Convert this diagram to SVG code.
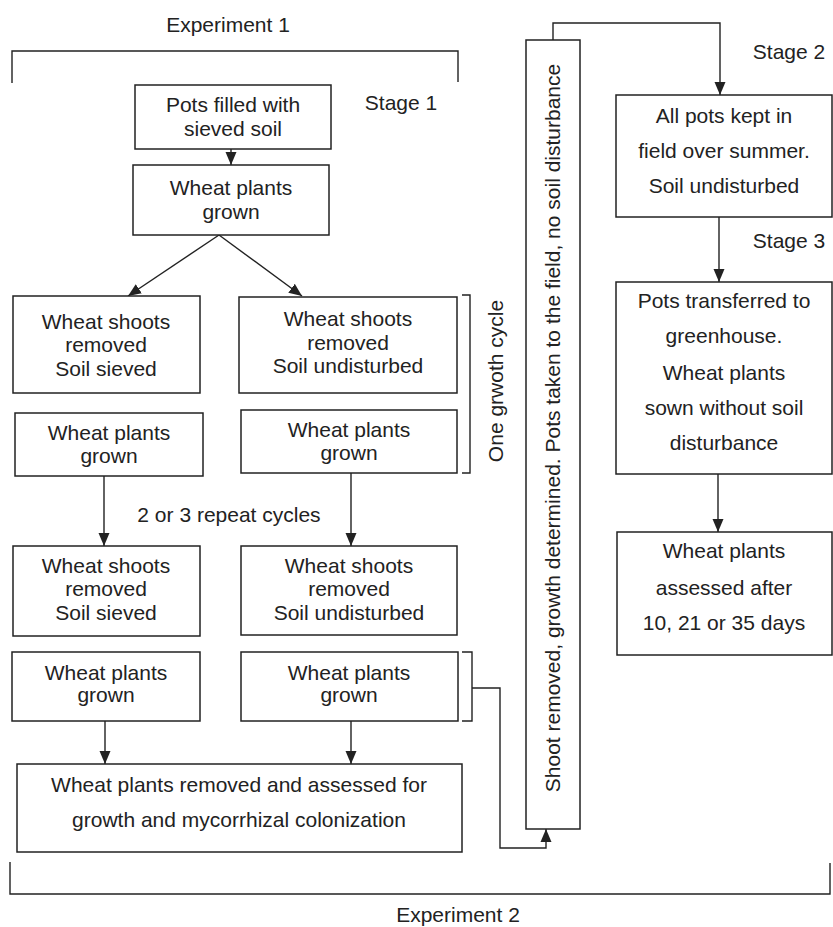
<svg xmlns="http://www.w3.org/2000/svg" width="833" height="927" viewBox="0 0 833 927">
<defs>
<style>
rect{fill:#fff;stroke:#222;stroke-width:1.5}
text{font-family:"Liberation Sans",Arial,sans-serif;font-size:21px;fill:#222;text-anchor:middle}
.l{text-anchor:start}
.c path,.c line{fill:none;stroke:#222;stroke-width:1.4}
</style>
<marker id="ah" markerUnits="userSpaceOnUse" markerWidth="14" markerHeight="14" viewBox="0 0 14 14" refX="13" refY="7" orient="auto">
<path d="M0,1.5 L13,7 L0,12.5 Z" fill="#222"/>
</marker>
</defs>
<rect x="0" y="0" width="833" height="927" style="fill:#fff;stroke:none"/>

<g id="labels">
<text x="228" y="32">Experiment 1</text>
<text x="401" y="110">Stage 1</text>
<text x="789" y="59">Stage 2</text>
<text x="789" y="248">Stage 3</text>
<text x="229" y="522">2 or 3 repeat cycles</text>
<text x="458" y="922">Experiment 2</text>
<text transform="translate(503,381) rotate(-90)">One grwoth cycle</text>
</g>

<g class="c" id="connectors">
<path d="M12,83 V51 H458 V82"/>
<path d="M10,862 V894 H830 V863"/>
<path d="M462,295 H470 V473 H462"/>
<path d="M462,652 H472 V721 H462"/>
<line x1="231" y1="149" x2="231" y2="165" marker-end="url(#ah)"/>
<line x1="219" y1="235" x2="128" y2="296" marker-end="url(#ah)"/>
<line x1="219" y1="235" x2="302" y2="296" marker-end="url(#ah)"/>
<line x1="104" y1="476" x2="104" y2="546" marker-end="url(#ah)"/>
<line x1="351" y1="473" x2="351" y2="546" marker-end="url(#ah)"/>
<line x1="105" y1="721" x2="105" y2="764" marker-end="url(#ah)"/>
<line x1="351" y1="721" x2="351" y2="764" marker-end="url(#ah)"/>
<path d="M472,688 H500 V848 H546 V829" marker-end="url(#ah)"/>
<path d="M553,40 V23 H720 V95" marker-end="url(#ah)"/>
<line x1="719" y1="217" x2="719" y2="282" marker-end="url(#ah)"/>
<line x1="718" y1="474" x2="718" y2="532" marker-end="url(#ah)"/>
</g>

<g id="n-pots">
<rect x="135" y="85" width="196" height="64"/>
<text x="233" y="112">Pots filled with</text>
<text x="233" y="136">sieved soil</text>
</g>
<g id="n-grown0">
<rect x="133" y="165" width="196" height="70"/>
<text x="231" y="195">Wheat plants</text>
<text x="231" y="219">grown</text>
</g>
<g id="n-L1">
<rect x="13" y="296" width="187" height="97"/>
<text x="106" y="329">Wheat shoots</text>
<text x="106" y="352">removed</text>
<text x="106" y="376">Soil sieved</text>
</g>
<g id="n-R1">
<rect x="239" y="297" width="218" height="96"/>
<text x="348" y="326">Wheat shoots</text>
<text x="348" y="350">removed</text>
<text x="348" y="373">Soil undisturbed</text>
</g>
<g id="n-L2">
<rect x="15" y="413" width="188" height="63"/>
<text x="109" y="440">Wheat plants</text>
<text x="109" y="463">grown</text>
</g>
<g id="n-R2">
<rect x="241" y="410" width="216" height="63"/>
<text x="349" y="437">Wheat plants</text>
<text x="349" y="460">grown</text>
</g>
<g id="n-L3">
<rect x="13" y="546" width="187" height="90"/>
<text x="106" y="573">Wheat shoots</text>
<text x="106" y="596">removed</text>
<text x="106" y="620">Soil sieved</text>
</g>
<g id="n-R3">
<rect x="241" y="546" width="216" height="89"/>
<text x="349" y="573">Wheat shoots</text>
<text x="349" y="596">removed</text>
<text x="349" y="620">Soil undisturbed</text>
</g>
<g id="n-L4">
<rect x="12" y="652" width="188" height="69"/>
<text x="106" y="680">Wheat plants</text>
<text x="106" y="702">grown</text>
</g>
<g id="n-R4">
<rect x="241" y="652" width="217" height="69"/>
<text x="349" y="680">Wheat plants</text>
<text x="349" y="702">grown</text>
</g>
<g id="n-final1">
<rect x="17" y="764" width="445" height="88"/>
<text x="239" y="792">Wheat plants removed and assessed for</text>
<text x="239" y="827">growth and mycorrhizal colonization</text>
</g>
<g id="n-field">
<rect x="526" y="40" width="54" height="789"/>
<text transform="translate(560,428) rotate(-90)">Shoot removed, growth determined. Pots taken to the field, no soil disturbance</text>
</g>
<g id="n-stage2">
<rect x="616" y="95" width="216" height="122"/>
<text x="724" y="123">All pots kept in</text>
<text x="724" y="158">field over summer.</text>
<text x="724" y="193">Soil undisturbed</text>
</g>
<g id="n-stage3">
<rect x="616" y="282" width="216" height="192"/>
<text x="724" y="308">Pots transferred to</text>
<text x="724" y="343">greenhouse.</text>
<text x="724" y="380">Wheat plants</text>
<text x="724" y="415">sown without soil</text>
<text x="724" y="450">disturbance</text>
</g>
<g id="n-assess">
<rect x="617" y="532" width="215" height="123"/>
<text x="724" y="558">Wheat plants</text>
<text x="724" y="595">assessed after</text>
<text x="724" y="630">10, 21 or 35 days</text>
</g>
</svg>
